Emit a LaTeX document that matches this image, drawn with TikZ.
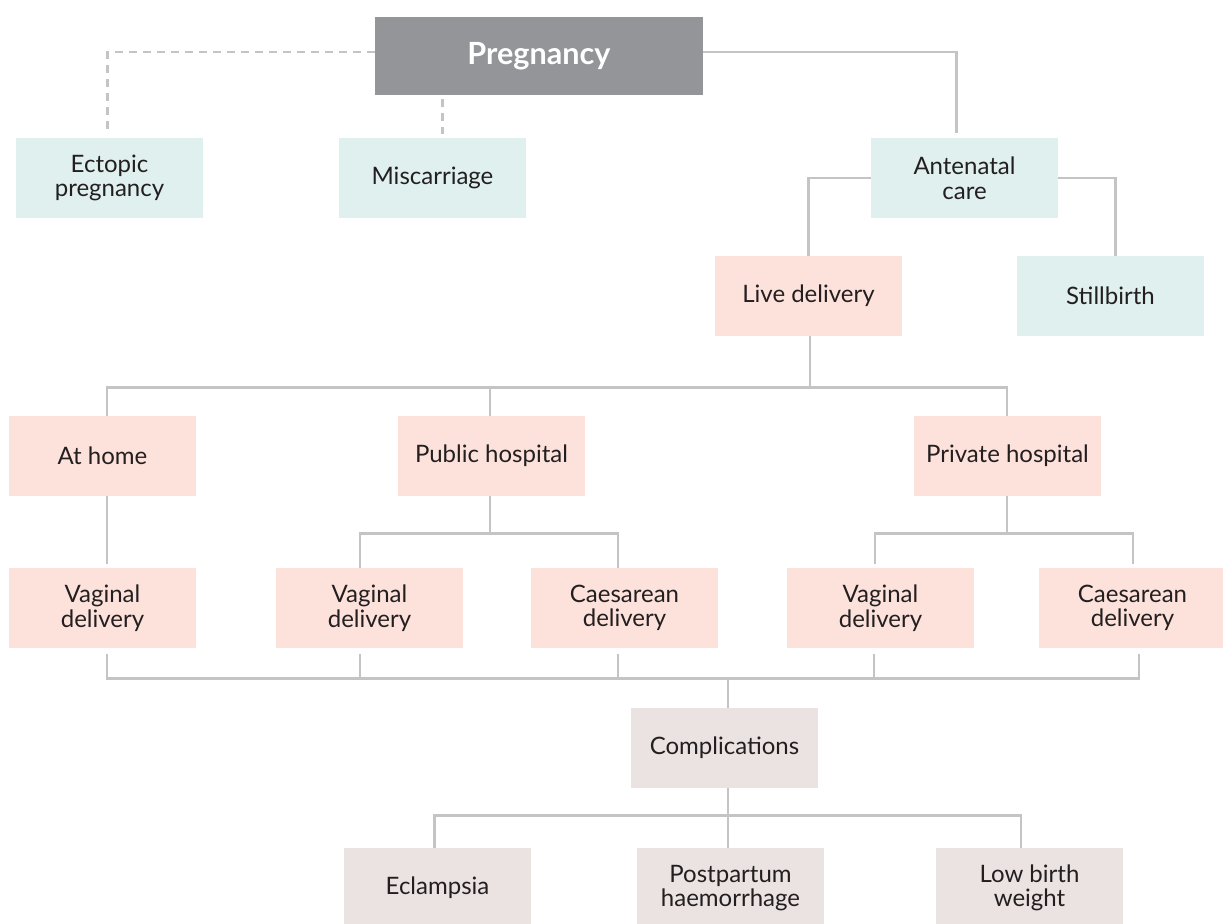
\documentclass[tikz,border=0pt]{standalone}
\usepackage{fontspec}
\setmainfont{Lato}
\usetikzlibrary{calc}
\definecolor{pregGray}{HTML}{939598}
\definecolor{tealBox}{HTML}{DFF0EE}
\definecolor{pinkBox}{HTML}{FDE2DC}
\definecolor{compBox}{HTML}{EBE3E2}
\definecolor{lineGray}{HTML}{C4C4C4}
\definecolor{inkText}{HTML}{231F20}
\begin{document}
\begin{tikzpicture}[x=0.5pt,y=-0.5pt,
  every node/.style={font=\fontsize{12}{12.3}\selectfont,text=inkText,align=center},
  box/.style={minimum width=93.5pt,minimum height=40pt,inner sep=0pt},
  tealbox/.style={box,fill=tealBox},
  pinkbox/.style={box,fill=pinkBox},
  compbox/.style={box,fill=compBox},
  link/.style={draw=lineGray,line width=1.2pt},
  dashlink/.style={link,dash pattern=on 4pt off 3pt}]
\useasboundingbox (0,0) rectangle (1223,923);
% pregnancy outcomes tree, boxes at pixel positions
\node[box,fill=pregGray,minimum width=164pt,minimum height=39pt,text=white,font=\bfseries\fontsize{15.3}{17}\selectfont] (preg) at (539,56) {Pregnancy};
\node[tealbox] (ect) at (109.5,178) {Ectopic\\pregnancy};
\node[tealbox] (mis) at (432.5,178) {Miscarriage};
\node[tealbox] (ant) at (964.5,178) {Antenatal\\care};
\node[pinkbox] (live) at (808.5,296) {Live delivery};
\node[tealbox] (still) at (1110.5,296) {Stillbirth};
\node[pinkbox] (home) at (102.5,456) {At home};
\node[pinkbox] (pub) at (491.5,456) {Public hospital};
\node[pinkbox] (priv) at (1007.5,456) {Private hospital};
\node[pinkbox] (vagA) at (102.5,608) {Vaginal\\delivery};
\node[pinkbox] (vagB) at (369.5,608) {Vaginal\\delivery};
\node[pinkbox] (caeB) at (624.5,608) {Caesarean\\delivery};
\node[pinkbox] (vagC) at (880.5,608) {Vaginal\\delivery};
\node[pinkbox] (caeC) at (1132.5,608) {Caesarean\\delivery};
\node[compbox] (comp) at (724.5,748) {Complications};
\node[compbox] (ecl) at (437.5,888) {Eclampsia};
\node[compbox] (pph) at (730.5,888) {Postpartum\\haemorrhage};
\node[compbox] (lbw) at (1029.5,888) {Low birth\\weight};
% links from pregnancy
\draw[dashlink,shorten >=2pt] ($(preg.west)+(0,-4)$) -| ($(ect.north)+(-2,0)$);
\coordinate (misTop) at ($(mis.north)+(10,0)$);
\draw[dashlink,shorten <=2pt,shorten >=2pt] (misTop |- preg.south) -- (misTop);
\draw[link,shorten >=2.5pt] ($(preg.east)+(0,-4)$) -| ($(ant.north)+(-8,0)$);
\draw[link] (ant.west) -| (live.north);
\draw[link] (ant.east) -| ($(still.north)+(5,0)$);
% place of delivery
\coordinate (busPlace) at ($(live.south)+(1.5,51)$);
\draw[link] ($(live.south)+(1.5,0)$) -- (busPlace);
\foreach \n/\dx in {home/4.5,pub/-1.5,priv/-0.5} {\draw[link] ($(\n.north)+(\dx,0)$) |- (busPlace);}
\draw[link,shorten >=2pt] ($(home.south)+(4.5,0)$) -- ($(vagA.north)+(4.5,0)$);
\coordinate (busPub) at ($(pub.south)+(-1.5,37)$);
\draw[link] ($(pub.south)+(-1.5,0)$) -- (busPub);
\foreach \n/\dx in {vagB/-9.5,caeB/-6.5} {\draw[link] ($(\n.north)+(\dx,0)$) |- (busPub);}
\coordinate (busPriv) at ($(priv.south)+(-0.5,37)$);
\draw[link] ($(priv.south)+(-0.5,0)$) -- (busPriv);
\foreach \n/\dx in {vagC/-5.5,caeC/0.5} {\draw[link,shorten <=2pt] ($(\n.north)+(\dx,0)$) |- (busPriv);}
% complications
\coordinate (busComp) at ($(comp.north)+(3.5,-29)$);
\draw[link] ($(comp.north)+(3.5,0)$) -- (busComp);
\foreach \n/\dx in {vagA/4.5,vagB/-9.5,caeB/-6.5,vagC/-6.5,caeC/6.5} {\draw[link,shorten <=3pt] ($(\n.south)+(\dx,0)$) |- (busComp);}
\coordinate (busOut) at ($(comp.south)+(3.5,27)$);
\draw[link] ($(comp.south)+(3.5,0)$) -- (busOut);
\foreach \n/\dx in {ecl/-3,pph/-2.5,lbw/-8.5} {\draw[link] ($(\n.north)+(\dx,0)$) |- (busOut);}
\end{tikzpicture}
\end{document}
